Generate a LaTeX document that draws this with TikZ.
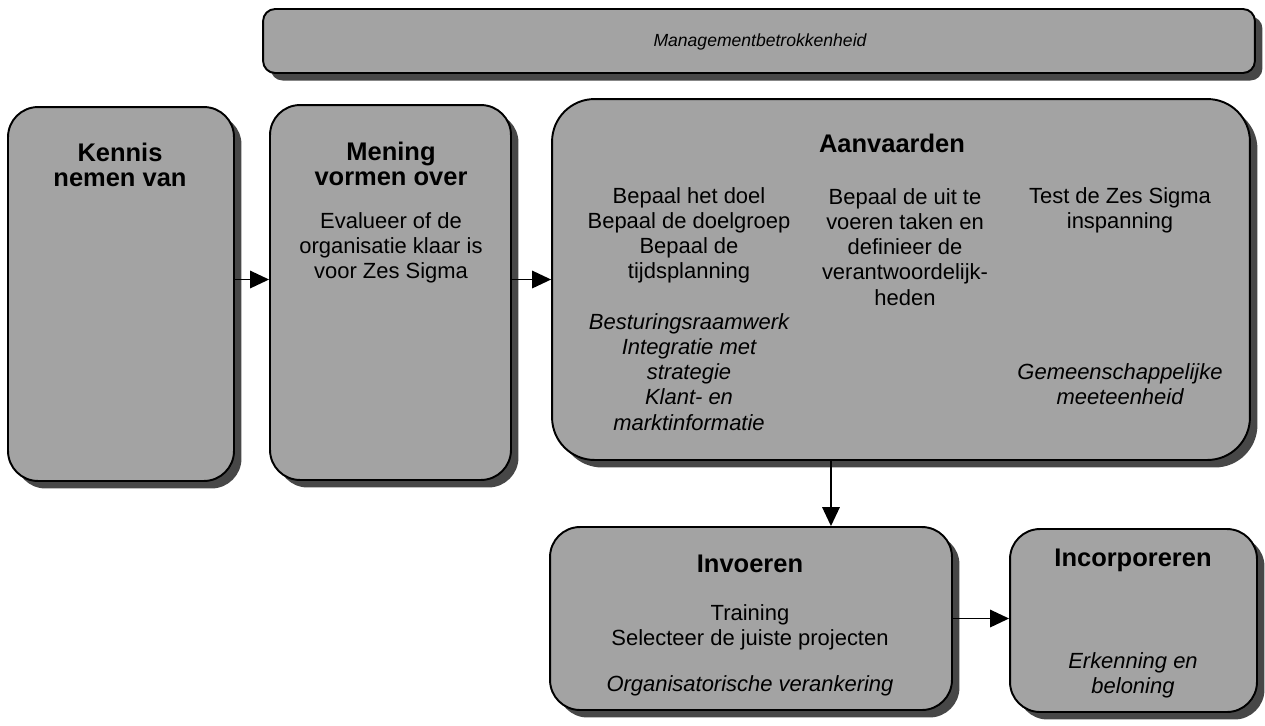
\documentclass[tikz,border=0pt]{standalone}
\usepackage{fontspec}
\setmainfont{Liberation Sans}
\usetikzlibrary{shadows,arrows.meta,positioning}

\begin{document}
\begin{tikzpicture}[x=0.02cm,y=-0.02cm,
    fase/.style={draw,line width=1.1pt,fill=black!36,rounded corners=#1,
      drop shadow={shadow xshift=0.15cm,shadow yshift=-0.15cm,fill=black!72,opacity=1}},
    fase/.default=0.6cm,
    kop/.style={font=\fontsize{14.5}{14.5}\selectfont\bfseries,align=center,inner sep=0pt},
    tekst/.style={font=\fontsize{12.5}{14.3}\selectfont,align=center,inner sep=0pt},
    accent/.style={font=\fontsize{12.5}{14.3}\selectfont\itshape,align=center,inner sep=0pt},
    pijl/.style={-{Triangle[length=3.8mm,width=3.5mm]},line width=1pt}]
    \useasboundingbox (0,0) rectangle (1265,725);

    \node[fase=0.24cm,minimum width=19.84cm,minimum height=1.28cm] (mgmt) at (759,41) {};
    \node[font=\fontsize{10}{12}\selectfont\itshape,inner sep=0pt] (mgmttekst) at (760,42) {Managementbetrokkenheid};

    \node[fase,minimum width=4.52cm,minimum height=7.48cm] (kennis) at (121,294) {};
    \node[kop] (kenniskop) at (120,165) {Kennis\\nemen van};

    \node[fase,minimum width=4.82cm,minimum height=7.5cm] (mening) at (390.5,292.5) {};
    \node[kop] (meningkop) at (391,164) {Mening\\vormen over};
    \node[tekst] (meningtekst) at (391,248) {Evalueer of de\\organisatie klaar is\\voor Zes Sigma};

    \node[fase=0.85cm,minimum width=13.96cm,minimum height=7.22cm] (aanv) at (901,279.5) {};
    \node[kop] (aanvkop) at (892,143) {Aanvaarden};
    \node[tekst] (doel) at (689,235) {Bepaal het doel\\Bepaal de doelgroep\\Bepaal de\\tijdsplanning};
    \node[accent] (kader) at (689,372) {Besturingsraamwerk\\Integratie met\\strategie\\Klant- en\\marktinformatie};
    \node[tekst] (taken) at (905,247) {Bepaal de uit te\\voeren taken en\\definieer de\\verantwoordelijk-\\heden};
    \node[tekst] (test) at (1120,210) {Test de Zes Sigma\\inspanning};
    \node[accent] (meet) at (1120,384) {Gemeenschappelijke\\meeteenheid};

    \node[fase,minimum width=8.04cm,minimum height=3.66cm] (invoeren) at (751,618.5) {};
    \node[kop] (invoerenkop) at (750,564) {Invoeren};
    \node[tekst] (training) at (750,627) {Training\\Selecteer de juiste projecten};
    \node[accent] (veranker) at (750,686) {Organisatorische verankering};

    \node[fase,minimum width=4.94cm,minimum height=3.66cm] (incorp) at (1133.5,620.5) {};
    \node[kop] (incorpkop) at (1133,560) {Incorporeren};
    \node[accent] (erkenning) at (1133,675) {Erkenning en\\beloning};

    \coordinate (split) at ([xshift=1.6cm]invoeren.north);
    \draw[pijl] (kennis.east |- aanv.west) -- (mening.west |- aanv.west);
    \draw[pijl] (mening.east |- aanv.west) -- (aanv.west);
    \draw[pijl] (aanv.south -| split) -- (split);
    \draw[pijl] (invoeren.east) -- (invoeren.east -| incorp.west);
\end{tikzpicture}
\end{document}
